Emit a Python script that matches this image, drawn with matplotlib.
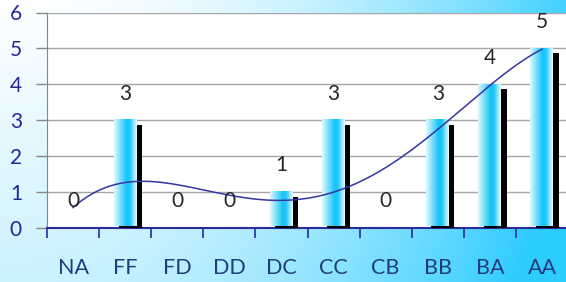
import matplotlib
matplotlib.use("Agg")
import matplotlib.pyplot as plt
import numpy as np
from matplotlib.colors import LinearSegmentedColormap

categories = ["NA", "FF", "FD", "DD", "DC", "CC", "CB", "BB", "BA", "AA"]
values = [0, 3, 0, 0, 1, 3, 0, 3, 4, 5]

plt.rcParams['font.family'] = ['Lato', 'DejaVu Sans']

W, H = 566, 282
fig = plt.figure(figsize=(W / 100, H / 100), dpi=100)

# background gradient: white top-left to cyan right
cyan = np.array([0.18, 0.80, 1.0])
yy, xx = np.mgrid[0:H, 0:W]
t = np.clip(0.9 * (xx / W) ** 2 + 0.25 * (yy / H), 0, 1)
bg = (1 - t[..., None]) * np.ones(3) + t[..., None] * cyan
bgax = fig.add_axes([0, 0, 1, 1])
bgax.imshow(bg, aspect='auto', extent=[0, 1, 0, 1])
bgax.axis('off')

ax = fig.add_axes([47 / W, (H - 227.5) / H, 521 / W, 215 / H])
ax.set_facecolor('white')
ax.set_xlim(-0.5, 9.5)
ax.set_ylim(0, 6)

ax.set_yticks(range(7))
ax.yaxis.grid(True, color='#a6a6a6', lw=1)
ax.set_axisbelow(True)
ax.tick_params(axis='y', colors='#868686', length=8, width=1, labelcolor='#262699',
               labelsize=15, pad=10)
ax.set_xticks(np.arange(-0.5, 10, 1))
ax.set_xticklabels([])
ax.set_xticks(range(10), minor=True)
ax.set_xticklabels(categories, minor=True)
ax.tick_params(axis='x', which='major', colors='#2b2b9b', length=7, width=1.2, direction='out')
ax.tick_params(axis='x', which='minor', length=0, labelcolor='#1f3d7a', labelsize=15.5, pad=22)
for s in ['top', 'right']:
    ax.spines[s].set_visible(False)
ax.spines['left'].set_color('#868686')
ax.spines['bottom'].set_color('#2b2b9b')
ax.spines['bottom'].set_linewidth(1.5)
ax.spines['bottom'].set_zorder(5)

# bars: black shadow + horizontal cyan gradient
barcmap = LinearSegmentedColormap.from_list(
    'bar', [(0.0, '#e0f8ff'), (0.55, '#16c4f6'), (0.7, '#20c8f8'), (1.0, '#e8faff')])
grad = np.linspace(0, 1, 64)[None, :]
bw = 0.44
for i, v in enumerate(values):
    if v == 0:
        continue
    ax.bar(i + 0.1, v - 0.14, width=bw, color='black', zorder=2)
    ax.hlines(0, i - bw / 2 + 0.1, i + bw / 2 + 0.1, color='black', lw=2.2, zorder=6)
    ax.imshow(grad, cmap=barcmap, aspect='auto', zorder=3,
              extent=[i - bw / 2, i + bw / 2, 0.04, v])
for i, v in enumerate(values):
    ax.annotate(str(v), (i, v), xytext=(0, 19), textcoords='offset points',
                ha='center', va='center', fontsize=15, color='#262626', zorder=6)

# polynomial trendline, order 4
xs = np.arange(10)
xf = np.linspace(0, 9, 300)
p = np.polyfit(xs, values, 4)
ax.plot(xf, np.polyval(p, xf), color='#3535a5', lw=1.1, zorder=4)

ax.set_xlim(-0.5, 9.5)
ax.set_ylim(0, 6)
fig.savefig("out.png", dpi=100)
